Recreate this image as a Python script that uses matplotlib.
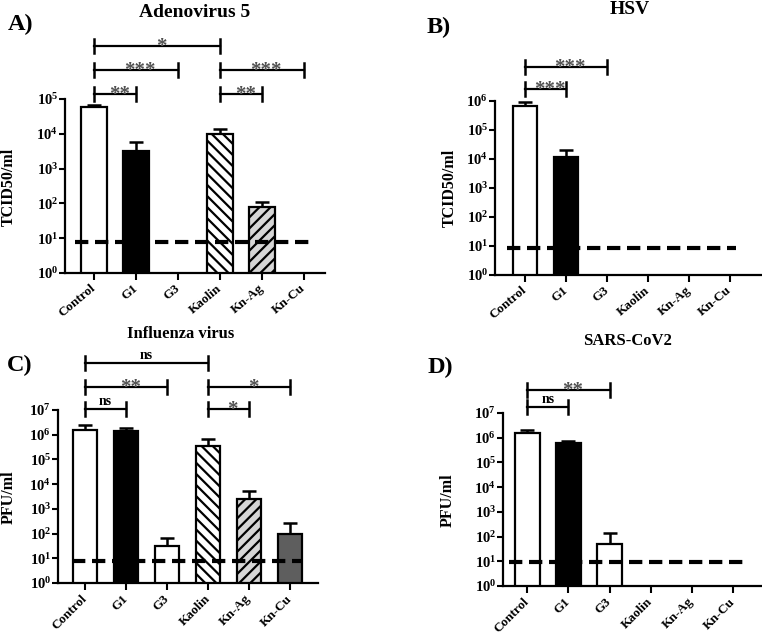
import numpy as np
import matplotlib
matplotlib.use('Agg')
import matplotlib.pyplot as plt
from matplotlib.ticker import LogLocator, FuncFormatter, NullLocator
from matplotlib.transforms import ScaledTranslation

plt.rcParams['font.family'] = ['Liberation Serif', 'DejaVu Serif']
plt.rcParams['font.weight'] = 'bold'
plt.rcParams['mathtext.fontset'] = 'custom'
plt.rcParams['mathtext.rm'] = 'Liberation Serif:bold'
plt.rcParams['mathtext.bf'] = 'Liberation Serif:bold'
plt.rcParams['mathtext.it'] = 'Liberation Serif:bold:italic'
plt.rcParams['hatch.linewidth'] = 1.6

# groups on the x axis
groups = ['Control', 'G1', 'G3', 'Kaolin', 'Kn-Ag', 'Kn-Cu']

# mean titres (0 = nothing detected, no bar) and top of error bar
adeno_mean = [6.0e4, 3.3e3, 0, 9.8e3, 78, 0]
adeno_top = [6.6e4, 5.9e3, 0, 1.4e4, 112, 0]
hsv_mean = [6.7e5, 1.2e4, 0, 0, 0, 0]
hsv_top = [9.3e5, 2.0e4, 0, 0, 0, 0]
flu_mean = [1.6e6, 1.35e6, 30, 3.6e5, 2.5e3, 95]
flu_top = [2.5e6, 1.9e6, 65, 6.8e5, 5.4e3, 260]
sars_mean = [1.6e6, 6.0e5, 50, 0, 0, 0]
sars_top = [2.0e6, 7.5e5, 135, 0, 0, 0]

# detection limits (dashed lines)
adeno_lod = 8
hsv_lod = 8.7
flu_lod = 8
sars_lod = 9.5

# significance brackets: (from group, to group, level, label)
adeno_sig = [(0, 1, 0, '**'), (0, 2, 1, '***'), (0, 3, 2, '*'), (3, 4, 0, '**'), (3, 5, 1, '***')]
hsv_sig = [(0, 1, 0, '***'), (0, 2, 1, '***')]
flu_sig = [(0, 1, 0, 'ns'), (0, 2, 1, '**'), (0, 3, 2, 'ns'), (3, 4, 0, '*'), (3, 5, 1, '*')]
sars_sig = [(0, 1, 0, 'ns'), (0, 2, 1, '**')]

face = ['white', 'black', 'white', 'white', '#d6d6d6', '#5e5e5e']
hatches = [None, None, None, '\\\\\\', '///', None]

W, H = 762, 633
fig = plt.figure(figsize=(W / 100, H / 100), dpi=100)


def panel(px, means, tops, lod, sigs, ymax, xlim, lodx, levels, rot):
    x0, x1, ytop, ybot = px
    ax = fig.add_axes([x0 / W, 1 - ybot / H, (x1 - x0) / W, (ybot - ytop) / H])
    ax.set_yscale('log')
    ax.set_ylim(1, ymax)
    ax.set_xlim(*xlim)
    x = np.arange(len(groups))
    for i in range(len(groups)):
        if means[i] <= 0:
            continue
        ax.bar(x[i], means[i], width=0.6, color=face[i], edgecolor='black',
               linewidth=1.6, hatch=hatches[i], zorder=2)
        ax.errorbar(x[i], means[i], yerr=[[0], [tops[i] - means[i]]], color='black',
                    capsize=5, elinewidth=1.8, capthick=1.8, zorder=1)
    ax.plot(lodx, [lod, lod], color='black', lw=3, dashes=(3.2, 1.6), zorder=3)

    ax.yaxis.set_major_locator(LogLocator(base=10, numticks=20))
    ax.yaxis.set_minor_locator(NullLocator())
    ax.yaxis.set_major_formatter(FuncFormatter(lambda v, p: r'$10^{%d}$' % round(np.log10(v))))
    ax.set_xticks(x)
    ax.set_xticklabels(groups, rotation=rot, ha='right', va='center',
                       rotation_mode='anchor', fontsize=9.5, fontweight='bold')
    shift = ScaledTranslation(4 / 100, 0, fig.dpi_scale_trans)
    for lab in ax.get_xticklabels():
        lab.set_transform(lab.get_transform() + shift)
    ax.tick_params(axis='y', labelsize=10.5, width=1.5, length=4, pad=1)
    ax.tick_params(axis='x', width=1.5, length=5, pad=5)
    for s in ['top', 'right']:
        ax.spines[s].set_visible(False)
    for s in ['left', 'bottom']:
        ax.spines[s].set_linewidth(1.6)

    tr = ax.get_xaxis_transform()
    for a, b, lev, txt in sigs:
        y = levels[lev]
        ax.plot([a, b], [y, y], color='black', lw=1.6, transform=tr, clip_on=False)
        for xx in (a, b):
            ax.plot([xx, xx], [y - 0.04, y + 0.04], color='black', lw=1.8,
                    transform=tr, clip_on=False)
        if txt == 'ns':
            ax.annotate(txt, ((a + b) / 2, y), xycoords=tr, xytext=(0, 3),
                        textcoords='offset points', ha='center', va='baseline',
                        fontsize=10, fontweight='bold', color='black')
        else:
            ax.annotate(txt, ((a + b) / 2 + 0.1, y), xycoords=tr, xytext=(0, -4.5),
                        textcoords='offset points', ha='center', va='baseline',
                        fontsize=15, fontweight='bold', color='#505050')
    return ax


panel((65, 325, 99, 273), adeno_mean, adeno_top, adeno_lod, adeno_sig, 1e5,
      (-0.69, 5.5), [-0.45, 5.15], [1.03, 1.167, 1.306], 40)
panel((495, 762, 101, 275), hsv_mean, hsv_top, hsv_lod, hsv_sig, 1e6,
      (-0.73, 5.78), [-0.44, 5.15], [1.069, 1.195], 40)
panel((58, 318, 410, 583), flu_mean, flu_top, flu_lod, flu_sig, 1e7,
      (-0.66, 5.68), [-0.32, 5.29], [1.006, 1.133, 1.272], 45)
panel((503, 762, 413, 586), sars_mean, sars_top, sars_lod, sars_sig, 1e7,
      (-0.59, 5.7), [-0.44, 5.24], [1.035, 1.133], 45)


def ftext(x, y, s, **kw):
    fig.text(x / W, 1 - y / H, s, fontweight='bold', **kw)


# y labels
ftext(9, 187, 'TCID50/ml', rotation=90, ha='center', va='center', fontsize=11.5)
ftext(450, 188, 'TCID50/ml', rotation=90, ha='center', va='center', fontsize=11.5)
ftext(9, 497, 'PFU/ml', rotation=90, ha='center', va='center', fontsize=11.5)
ftext(448, 500, 'PFU/ml', rotation=90, ha='center', va='center', fontsize=11.5)

# titles
ftext(195, 17, 'Adenovirus 5', ha='center', va='baseline', fontsize=14)
ftext(630, 13.5, 'HSV', ha='center', va='baseline', fontsize=14)
ftext(181, 338, 'Influenza virus', ha='center', va='baseline', fontsize=12)
ftext(628, 345, 'SARS-CoV2', ha='center', va='baseline', fontsize=12)

# panel letters
ftext(8, 30, 'A)', ha='left', va='baseline', fontsize=17.5)
ftext(427, 33, 'B)', ha='left', va='baseline', fontsize=17.5)
ftext(7, 371, 'C)', ha='left', va='baseline', fontsize=17.5)
ftext(428, 373, 'D)', ha='left', va='baseline', fontsize=17.5)

plt.savefig('out.png', dpi=100)
